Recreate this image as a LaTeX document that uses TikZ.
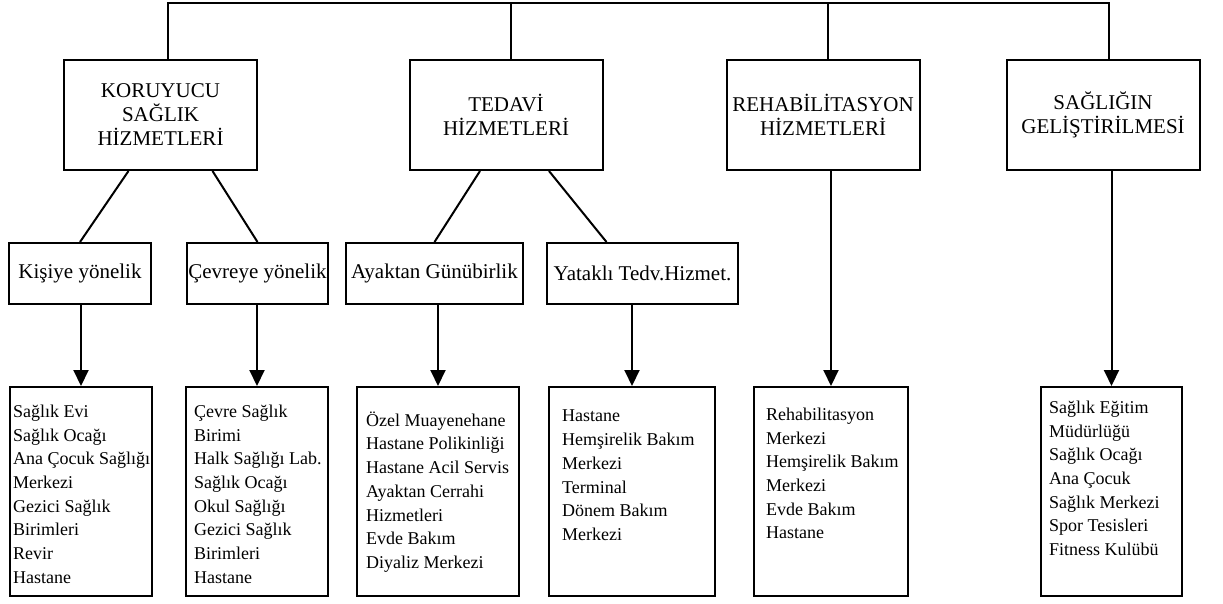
\documentclass[tikz,border=0pt]{standalone}
\usepackage{fontspec}
\setmainfont{Liberation Serif}
\usetikzlibrary{positioning, arrows.meta}

\begin{document}
\begin{tikzpicture}[x=1pt, y=1pt,
    main/.style={rectangle, draw=black, line width=2pt, minimum width=193pt,
        minimum height=110pt, inner sep=0pt, align=center, text=black,
        font=\fontsize{21}{24}\selectfont},
    sub/.style={rectangle, draw=black, line width=2pt, minimum height=61pt,
        inner sep=1pt, text=black, font=\fontsize{21}{24}\selectfont},
    result/.style={rectangle, draw=black, line width=2pt, minimum height=209pt,
        inner sep=0pt},
    items/.style={anchor=north west, inner sep=0pt, align=left, text=black,
        font=\fontsize{18}{23.7}\selectfont},
    link/.style={draw=black, line width=2pt},
    arrow/.style={draw=black, line width=2pt, -{Triangle[length=16pt, width=15pt]}}
]
\useasboundingbox (0,0) rectangle (1223,-603);

% top level
\node (Top01) [main] at (160.5,-115) {KORUYUCU\\SAĞLIK\\HİZMETLERİ};
\node (Top02) [main] at (506,-115) {TEDAVİ\\HİZMETLERİ};
\node (Top03) [main] at (823,-115) {REHABİLİTASYON\\HİZMETLERİ};
\node (Top04) [main] at (1103,-115) {SAĞLIĞIN\\GELİŞTİRİLMESİ};

\coordinate (Bar01) at (168,-3);
\coordinate (Bar02) at (511,-3);
\coordinate (Bar03) at (828,-3);
\coordinate (Bar04) at (1109,-3);

\draw[link] (Bar01 |- Top01.north) -- (Bar01) -- (Bar04) -- (Bar04 |- Top04.north);
\draw[link] (Bar02) -- (Bar02 |- Top02.north);
\draw[link] (Bar03) -- (Bar03 |- Top03.north);

% second level
\node (Mid01) [sub, minimum width=142pt] at (80,-273.5) {Kişiye yönelik};
\node (Mid02) [sub, minimum width=141pt] at (257.5,-273.5) {Çevreye yönelik};
\node (Mid03) [sub, minimum width=177pt] at (434.5,-273.5) {Ayaktan Günübirlik};
\node (Mid04) [sub, minimum width=191pt] at (642.5,-273.5) {Yataklı Tedv.Hizmet.};

\draw[link] ([xshift=-32pt]Top01.south) -- (Mid01.north);
\draw[link] ([xshift=52pt]Top01.south) -- (Mid02.north);
\draw[link] ([xshift=-26pt]Top02.south) -- (Mid03.north);
\draw[link] ([xshift=43pt]Top02.south) -- ([xshift=-36pt]Mid04.north);

% lists
\node (Res01) [result, minimum width=142pt] at (81,-491.5) {};
\node (Res02) [result, minimum width=142pt] at (257,-491.5) {};
\node (Res03) [result, minimum width=162pt] at (438,-491.5) {};
\node (Res04) [result, minimum width=166pt] at (632,-491.5) {};
\node (Res05) [result, minimum width=154pt] at (831,-491.5) {};
\node (Res06) [result, minimum width=141pt] at (1111.5,-491.5) {};

\node (Txt01) [items] at ([shift={(4pt,-18.7pt)}]Res01.north west)
    {Sağlık Evi\\Sağlık Ocağı\\Ana Çocuk Sağlığı\\Merkezi\\Gezici Sağlık\\Birimleri\\Revir\\Hastane};
\node (Txt02) [items] at ([shift={(9pt,-18.7pt)}]Res02.north west)
    {Çevre Sağlık\\Birimi\\Halk Sağlığı Lab.\\Sağlık Ocağı\\Okul Sağlığı\\Gezici Sağlık\\Birimleri\\Hastane};
\node (Txt03) [items] at ([shift={(10pt,-25.5pt)}]Res03.north west)
    {Özel Muayenehane\\Hastane Polikinliği\\Hastane Acil Servis\\Ayaktan Cerrahi\\Hizmetleri\\Evde Bakım\\Diyaliz Merkezi};
\node (Txt04) [items] at ([shift={(14pt,-24pt)}]Res04.north west)
    {Hastane\\Hemşirelik Bakım\\Merkezi\\Terminal\\Dönem Bakım\\Merkezi};
\node (Txt05) [items] at ([shift={(13pt,-21.7pt)}]Res05.north west)
    {Rehabilitasyon\\Merkezi\\Hemşirelik Bakım\\Merkezi\\Evde Bakım\\Hastane};
\node (Txt06) [items] at ([shift={(9pt,-14.7pt)}]Res06.north west)
    {Sağlık Eğitim\\Müdürlüğü\\Sağlık Ocağı\\Ana Çocuk\\Sağlık Merkezi\\Spor Tesisleri\\Fitness Kulübü};

\draw[arrow] (Res01.north |- Mid01.south) -- (Res01.north);
\draw[arrow] (Res02.north |- Mid02.south) -- (Res02.north);
\draw[arrow] (Res03.north |- Mid03.south) -- (Res03.north);
\draw[arrow] (Res04.north |- Mid04.south) -- (Res04.north);
\draw[arrow] (Res05.north |- Top03.south) -- (Res05.north);
\draw[arrow] (Res06.north |- Top04.south) -- (Res06.north);

\end{tikzpicture}
\end{document}
